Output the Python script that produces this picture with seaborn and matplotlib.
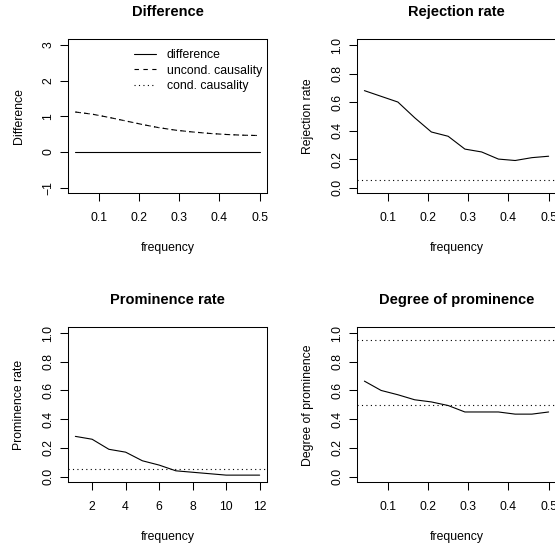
import matplotlib
matplotlib.use("Agg")
import matplotlib.pyplot as plt
import seaborn as sns
import pandas as pd

# ---- data ----
frequency = [0.0417, 0.0833, 0.125, 0.1667, 0.2083, 0.25, 0.2917, 0.3333, 0.375, 0.4167, 0.4583, 0.5]
difference = [0, 0, 0, 0, 0, 0, 0, 0, 0, 0, 0, 0]
uncond_causality = [1.12, 1.06, 0.97, 0.87, 0.77, 0.68, 0.61, 0.56, 0.52, 0.49, 0.47, 0.46]
cond_causality = [1.12, 1.06, 0.97, 0.87, 0.77, 0.68, 0.61, 0.56, 0.52, 0.49, 0.47, 0.46]
rejection_rate = [0.68, 0.64, 0.60, 0.49, 0.39, 0.36, 0.27, 0.25, 0.20, 0.19, 0.21, 0.22]
prominence_x = [1, 2, 3, 4, 5, 6, 7, 8, 9, 10, 11, 12]
prominence_rate = [0.28, 0.26, 0.19, 0.17, 0.11, 0.08, 0.04, 0.03, 0.02, 0.01, 0.01, 0.01]
degree_prominence = [0.665, 0.60, 0.57, 0.535, 0.52, 0.495, 0.45, 0.45, 0.45, 0.435, 0.435, 0.45]
alpha_level = 0.05
degree_bounds = [0.5, 0.95]

titles = ["Difference", "Rejection rate", "Prominence rate", "Degree of prominence"]
ylabels = ["Difference", "Rejection rate", "Prominence rate", "Degree of prominence"]
legend_labels = ["difference", "uncond. causality", "cond. causality"]

sns.set_theme(style="ticks")
plt.rcParams['font.family'] = ['Liberation Sans', 'DejaVu Sans']
plt.rcParams['axes.edgecolor'] = 'black'
plt.rcParams['axes.linewidth'] = 0.75
plt.rcParams['xtick.color'] = 'black'
plt.rcParams['ytick.color'] = 'black'
plt.rcParams['text.color'] = 'black'
plt.rcParams['axes.labelcolor'] = 'black'

W, H = 555, 546
fig = plt.figure(figsize=(W / 100, H / 100), dpi=100)

def make_ax(left, top, right, bottom):
    return fig.add_axes([left / W, 1 - bottom / H, (right - left) / W, (bottom - top) / H])

ax1 = make_ax(68, 39.3, 267, 193.3)
ax2 = make_ax(357, 39.3, 556, 193.3)
ax3 = make_ax(68, 327.3, 267, 482.3)
ax4 = make_ax(357, 327.3, 556, 482.3)

LW = 0.8
DOT = (0, (1, 3))
DASH = (0, (4, 4))
FS = 8.8

# Panel 1
df1 = pd.DataFrame({"frequency": frequency, "difference": difference,
                    "uncond": uncond_causality, "cond": cond_causality})
sns.lineplot(data=df1, x="frequency", y="difference", ax=ax1, color="black", lw=LW,
             label=legend_labels[0])
sns.lineplot(data=df1, x="frequency", y="uncond", ax=ax1, color="black", lw=LW,
             linestyle=DASH, label=legend_labels[1])
sns.lineplot(data=df1, x="frequency", y="cond", ax=ax1, color="black", lw=LW,
             linestyle=DOT, label=legend_labels[2])
ax1.set_ylim(-1.16, 3.16)
ax1.set_yticks([-1, 0, 1, 2, 3])
ax1.set_yticklabels(["\u22121", "0", "1", "2", "3"])
ax1.legend(loc="upper left", bbox_to_anchor=(0.33, 0.935), frameon=False, fontsize=FS,
           handlelength=1.8, handletextpad=0.9, labelspacing=0.28, borderpad=0,
           borderaxespad=0)

# Panel 2
sns.lineplot(x=frequency, y=rejection_rate, ax=ax2, color="black", lw=LW)
ax2.axhline(alpha_level, color="black", lw=LW, linestyle=DOT)
ax2.set_ylim(-0.04, 1.04)

# Panel 3
sns.lineplot(x=prominence_x, y=prominence_rate, ax=ax3, color="black", lw=LW)
ax3.axhline(alpha_level, color="black", lw=LW, linestyle=DOT)
ax3.set_ylim(-0.04, 1.04)
ax3.set_xlim(0.56, 12.44)
ax3.set_xticks([2, 4, 6, 8, 10, 12])

# Panel 4
sns.lineplot(x=frequency, y=degree_prominence, ax=ax4, color="black", lw=LW)
for b in degree_bounds:
    ax4.axhline(b, color="black", lw=LW, linestyle=DOT)
ax4.set_ylim(-0.04, 1.04)

for ax in (ax2, ax3, ax4):
    ax.set_yticks([0, 0.2, 0.4, 0.6, 0.8, 1.0])
    ax.set_yticklabels(["0.0", "0.2", "0.4", "0.6", "0.8", "1.0"])

for ax in (ax1, ax2, ax4):
    ax.set_xlim(0.0233, 0.5183)
    ax.set_xticks([0.1, 0.2, 0.3, 0.4, 0.5])
    ax.set_xticklabels(["0.1", "0.2", "0.3", "0.4", "0.5"])

for ax, t, yl in zip((ax1, ax2, ax3, ax4), titles, ylabels):
    ax.set_title(t, fontsize=10.5, fontweight="bold", pad=16.5)
    ax.set_xlabel("frequency", fontsize=FS, labelpad=13)
    ax.set_ylabel(yl, fontsize=FS, labelpad=12)
    ax.tick_params(axis="both", direction="out", length=5.5, width=0.75, labelsize=FS)
    ax.tick_params(axis="x", pad=8)
    ax.tick_params(axis="y", pad=4.5)
    for lab in ax.get_yticklabels():
        lab.set_rotation(90)
        lab.set_va("center")
    for s in ax.spines.values():
        s.set_visible(True)

fig.savefig("out.png", dpi=100, facecolor="white")
